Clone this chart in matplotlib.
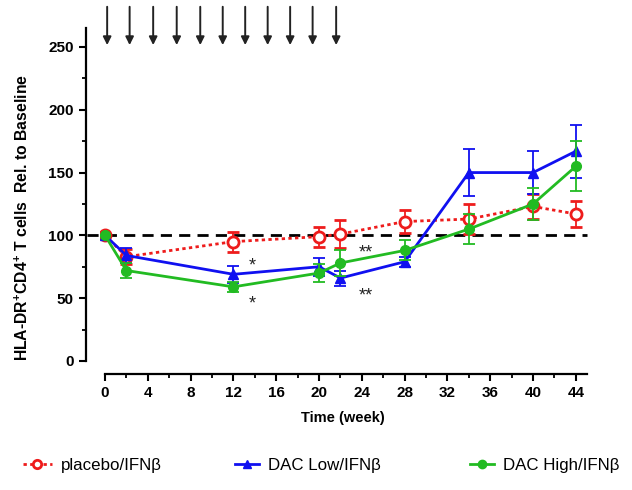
import numpy as np
import matplotlib as mpl
import matplotlib.pyplot as plt
from matplotlib.lines import Line2D

mpl.rcParams.update({
    "font.family": ["Liberation Sans", "DejaVu Sans"],
    "mathtext.fontset": "custom",
    "mathtext.rm": "Liberation Sans",
    "mathtext.bf": "Liberation Sans:bold",
})

# ----------------------------
# Data
# ----------------------------
weeks = [0, 2, 12, 20, 22, 28, 34, 40, 44]

placebo = [100, 83, 95, 99, 101, 111, 113, 123, 117]
placebo_err = [0, 6, 8, 8, 11, 9, 12, 10, 10]

dac_low = [100, 84, 69, 75, 66, 79, 150, 150, 167]
dac_low_err = [0, 6, 7, 7, 6, 4, 19, 17, 21]

dac_high = [100, 72, 59, 70, 78, 88, 105, 125, 155]
dac_high_err = [0, 6, 4, 7, 10, 8, 12, 13, 20]

dose_weeks = [0.2, 2.3, 4.5, 6.7, 8.9, 11.0, 13.1, 15.2, 17.3, 19.4, 21.6]

stars = [(13.8, 76, "*"), (13.8, 45, "*"), (24.4, 86, "**"), (24.4, 52, "**")]

red = "#ee1c1c"
blue = "#1010f0"
green = "#22bb22"

# ----------------------------
# Figure
# ----------------------------
fig = plt.figure(figsize=(6.32, 4.90), dpi=100)
ax = fig.add_axes([0.1577, 0.2582, 0.7704, 0.7408])
ax.set_xlim(-0.5, 45)
ax.set_ylim(-2, 287)

ax.plot([-1.7, 45], [100, 100], color="black", lw=2, ls=(0, (4, 2.6)),
        clip_on=False, zorder=1)

ax.errorbar(weeks, placebo, yerr=placebo_err, color=red, lw=2,
            ls=(0, (1.2, 1.2)), marker="o", ms=8, mfc="white", mec=red,
            mew=2, capsize=4, elinewidth=1.3, capthick=1.3, zorder=2)
ax.errorbar(weeks, dac_low, yerr=dac_low_err, color=blue, lw=2, marker="^",
            ms=7, capsize=4, elinewidth=1.3, capthick=1.3, zorder=3)
ax.errorbar(weeks, dac_high, yerr=dac_high_err, color=green, lw=2, marker="o",
            ms=7, capsize=4, elinewidth=1.3, capthick=1.3, zorder=4)

for x, y, s in stars:
    ax.text(x, y, s, ha="center", va="center", fontsize=13, color="#222222")

for w in dose_weeks:
    ax.annotate("", xy=(w, 251.5), xytext=(w, 282),
                arrowprops=dict(arrowstyle="-|>", color="#222222", lw=1.4,
                                mutation_scale=12, shrinkA=0, shrinkB=0),
                annotation_clip=False)

# axes styling
for side in ["top", "right"]:
    ax.spines[side].set_visible(False)
ax.spines["left"].set_position(("outward", 10))
ax.spines["bottom"].set_position(("outward", 7.5))
ax.spines["left"].set_bounds(0, 265)
ax.spines["bottom"].set_bounds(0, 45)
for side in ["left", "bottom"]:
    ax.spines[side].set_linewidth(1.6)

ax.set_xticks(np.arange(0, 45, 4))
ax.set_xticks(np.arange(0, 45, 2), minor=True)
ax.set_yticks(np.arange(0, 251, 50))
ax.set_yticks(np.arange(0, 251, 25), minor=True)
ax.tick_params(which="major", length=5, width=1.5, labelsize=11)
ax.tick_params(which="minor", length=3, width=1.3)
for lab in ax.get_xticklabels() + ax.get_yticklabels():
    lab.set_fontweight("bold")

ax.set_xlabel("Time (week)", fontsize=10.5, fontweight="bold", labelpad=8)
fig.text(0.035, 0.556,
         r"HLA-DR$^{\mathbf{+}}$CD4$^{\mathbf{+}}$ T cells  Rel. to Baseline",
         rotation=90, ha="center", va="center", fontsize=11.3,
         fontweight="bold")

# legend
entries = [
    (Line2D([], [], color=red, lw=2, ls=(0, (1.2, 1.2)), marker="o", ms=6,
            mfc="white", mec=red, mew=2), "placebo/IFN\u03b2", 0.036, 1.7),
    (Line2D([], [], color=blue, lw=2, marker="^", ms=6), "DAC Low/IFN\u03b2", 0.372, 1.4),
    (Line2D([], [], color=green, lw=2, marker="o", ms=6), "DAC High/IFN\u03b2", 0.744, 1.4),
]
for h, lab, x0, hl in entries:
    fig.legend([h], [lab], loc="center left", bbox_to_anchor=(x0, 0.05),
               frameon=False, fontsize=12.2, handlelength=hl, handletextpad=0.55,
               borderaxespad=0, borderpad=0)

fig.savefig("out.png", dpi=100)
